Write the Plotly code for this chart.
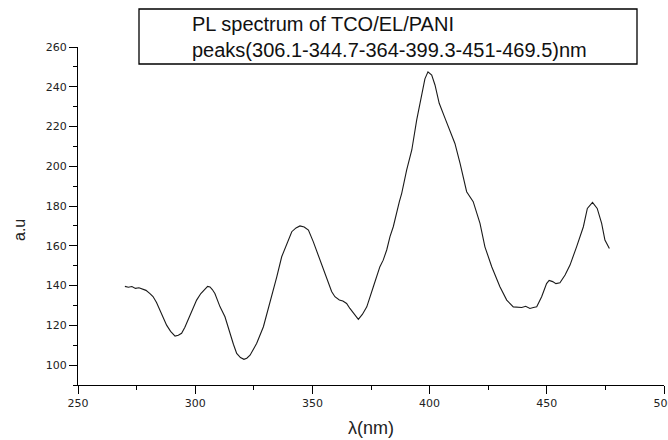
import plotly.graph_objects as go

# Data
wavelength_nm = [
    270.0, 271.5, 273.0, 274.5, 276.0, 277.5, 279.0, 280.7, 282.0, 283.5,
    285.0, 286.5, 287.8, 289.5, 291.4, 292.8, 294.2, 295.6, 297.0, 298.8,
    300.6, 302.4, 304.2, 305.3, 306.3, 307.3, 308.4, 310.6, 312.7, 314.8,
    316.3, 317.7, 319.3, 320.8, 322.0, 323.4, 324.8, 326.2, 329.1, 331.9,
    334.8, 336.9, 339.0, 341.2, 343.0, 344.7, 346.5, 348.3, 350.4, 353.2,
    355.0, 356.8, 358.2, 359.6, 361.5, 363.0, 364.6, 366.0, 367.5, 369.6,
    371.3, 373.2, 376.0, 378.8, 380.2, 381.7, 383.1, 384.5, 387.1, 388.1,
    390.2, 392.4, 394.5, 396.6, 398.0, 399.3, 400.9, 402.3, 404.1, 406.6,
    408.7, 410.8, 413.0, 415.8, 418.6, 421.5, 423.6, 426.5, 430.0, 432.9,
    435.7, 437.5, 439.3, 441.0, 442.8, 444.3, 445.7, 447.8, 449.9, 451.0,
    452.5, 453.9, 455.6, 457.8, 459.9, 462.7, 465.6, 467.3, 469.5, 471.5,
    473.4, 474.8, 476.7,
]
intensity_au = [
    139.6, 139.2, 139.5, 138.6, 138.9, 138.2, 137.6, 136.0, 134.5, 131.5,
    127.7, 123.5, 120.1, 117.0, 114.6, 115.0, 116.0, 119.0, 122.6, 127.5,
    132.7, 136.0, 138.6, 139.6, 139.3, 138.0, 136.0, 129.3, 124.3, 116.0,
    110.5, 105.9, 103.8, 102.9, 103.5, 105.0, 107.8, 110.9, 119.3, 131.0,
    144.4, 154.5, 160.4, 167.1, 169.0, 170.0, 169.5, 167.9, 162.0, 152.8,
    146.5, 141.0, 137.0, 134.4, 132.8, 132.2, 131.0, 128.5, 126.0, 123.0,
    125.5, 129.3, 139.4, 149.5, 152.8, 157.9, 164.6, 169.6, 182.2, 186.4,
    198.1, 208.2, 223.3, 236.7, 244.0, 247.5, 245.9, 240.9, 231.7, 224.1,
    218.2, 211.5, 201.5, 187.2, 182.2, 171.3, 159.5, 149.5, 139.4, 132.7,
    129.3, 129.2, 129.0, 129.6, 128.5, 129.0, 129.3, 134.4, 141.0, 142.6,
    142.0, 141.0, 141.4, 145.3, 150.3, 159.5, 169.6, 178.8, 181.8, 178.8,
    171.3, 162.9, 158.7,
]
y_ticks = [100, 120, 140, 160, 180, 200, 220, 240, 260]
x_ticks = [250, 300, 350, 400, 450, 500]
legend_lines = ["PL spectrum of TCO/EL/PANI", "peaks(306.1-344.7-364-399.3-451-469.5)nm"]

W, H = 668, 440
L, R, T, B = 78, 4, 47, 55
PW, PH = W - L - R, H - T - B


def px(x):
    return (x - L) / PW


def py(y):
    return (H - B - y) / PH


fig = go.Figure()
fig.add_trace(go.Scatter(
    x=wavelength_nm, y=intensity_au, mode="lines",
    line=dict(color="#1a1a1a", width=1.1), showlegend=False,
))

axis_common = dict(
    showline=True, linecolor="black", linewidth=1.3, mirror=False,
    ticks="outside", ticklen=8, tickwidth=1.2, tickcolor="black",
    showgrid=False, zeroline=False, automargin=False,
    ticklabeloverflow="allow",
    tickfont=dict(family="DejaVu Sans", size=11, color="#222"),
)

fig.update_layout(
    width=W, height=H, template="none",
    margin=dict(l=L, r=R, t=T, b=B, pad=0),
    paper_bgcolor="white", plot_bgcolor="white",
    xaxis=dict(range=[250, 500], tickvals=x_ticks,
               minor=dict(ticks="outside", ticklen=4, dtick=25, tick0=250,
                          tickcolor="black", tickwidth=1.2, showgrid=False),
               **axis_common),
    yaxis=dict(range=[90, 260], tickvals=y_ticks,
               minor=dict(ticks="outside", ticklen=4, dtick=10, tick0=90,
                          tickcolor="black", tickwidth=1.2, showgrid=False),
               **axis_common),
)

# Legend box
fig.add_shape(type="rect", xref="paper", yref="paper",
              x0=px(139), x1=px(637), y0=py(64), y1=py(9),
              line=dict(color="black", width=1.3), fillcolor="white")
fig.add_annotation(text=legend_lines[0], xref="paper", yref="paper",
                   x=px(190), y=py(24), xanchor="left", yanchor="middle",
                   showarrow=False, font=dict(family="Liberation Sans", size=20, color="#111"))
fig.add_annotation(text=legend_lines[1], xref="paper", yref="paper",
                   x=px(190), y=py(50), xanchor="left", yanchor="middle",
                   showarrow=False, font=dict(family="Liberation Sans", size=20, color="#111"))

# Axis titles
fig.add_annotation(text="a.u", xref="paper", yref="paper",
                   x=px(19), y=py(230), xanchor="center", yanchor="middle",
                   textangle=-90, showarrow=False,
                   font=dict(family="Liberation Sans", size=16, color="#222"))
fig.add_annotation(text="λ(nm)", xref="paper", yref="paper",
                   x=px(371), y=py(428), xanchor="center", yanchor="middle",
                   showarrow=False,
                   font=dict(family="Liberation Sans", size=18, color="#222"))

fig.write_html("out.html")
